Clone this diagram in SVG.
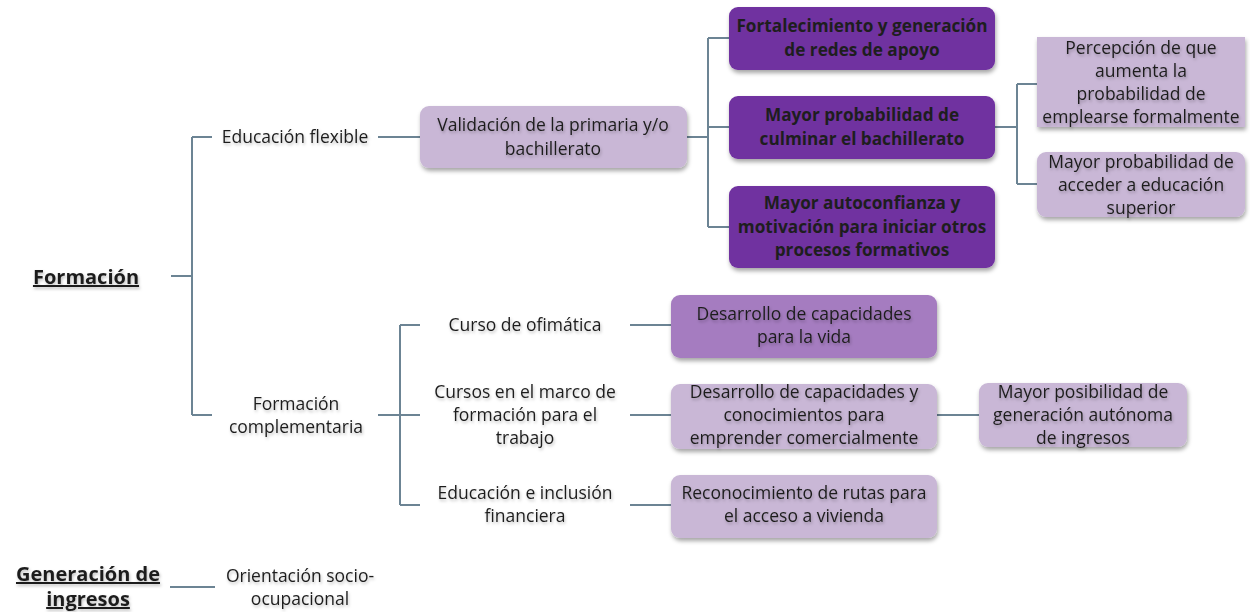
<svg xmlns="http://www.w3.org/2000/svg" width="1250" height="612" viewBox="0 0 1250 612">
<defs>
<filter id="sh" x="-10%" y="-10%" width="120%" height="130%">
<feDropShadow dx="1" dy="3" stdDeviation="2" flood-color="#000" flood-opacity="0.35"/>
</filter>
<filter id="ts" x="-5%" y="-20%" width="110%" height="150%">
<feDropShadow dx="1" dy="2" stdDeviation="1.5" flood-color="#000" flood-opacity="0.25"/>
</filter>
</defs>
<style>
text{font-family:"Open Sans","Noto Sans","Liberation Sans",sans-serif;font-size:17.5px;fill:#1e1e1e;text-anchor:middle;}
.t{filter:url(#ts);}
.b{font-weight:bold;font-size:17.2px;}
.h{font-weight:bold;font-size:20px;text-decoration:underline;}
.lt{fill:#c9b7d6;filter:url(#sh);}
.md{fill:#a57cc0;filter:url(#sh);}
.dk{fill:#7030a0;filter:url(#sh);}
.c{stroke:#6c8494;stroke-width:2;fill:none;}
</style>
<g id="connectors">
<path class="c" d="M171 276H192M192 137V415M192 137H212M192 415H212"/>
<path class="c" d="M378 137H420"/>
<path class="c" d="M687 137H708M708 38V227M708 38H729M708 127H729M708 227H729"/>
<path class="c" d="M995 127H1017M1017 84V184M1017 84H1037M1017 184H1037"/>
<path class="c" d="M378 415H400M400 325V505M400 325H420M400 415H420M400 505H420"/>
<path class="c" d="M630 325H671M630 415H671M630 505H671"/>
<path class="c" d="M937 415H979"/>
<path class="c" d="M170 587H215"/>
</g>
<g id="formacion" class="t"><text class="h" x="86" y="284">Formación</text></g>
<g id="educacion-flexible" class="t"><text x="295" y="143">Educación flexible</text></g>
<g id="validacion"><rect class="lt" x="420" y="106" width="267" height="62" rx="9"/>
<text class="t" x="553" y="131">Validación de la primaria y/o</text><text class="t" x="553" y="155">bachillerato</text></g>
<g id="fortalecimiento"><rect class="dk" x="729" y="7" width="266" height="63" rx="9"/>
<text class="b" x="862" y="32">Fortalecimiento y generación</text><text class="b" x="862" y="56">de redes de apoyo</text></g>
<g id="mayor-prob-culminar"><rect class="dk" x="729" y="96" width="266" height="63" rx="9"/>
<text class="b" x="862" y="121">Mayor probabilidad de</text><text class="b" x="862" y="145">culminar el bachillerato</text></g>
<g id="mayor-autoconfianza"><rect class="dk" x="729" y="186" width="266" height="82" rx="9"/>
<text class="b" x="862" y="209">Mayor autoconfianza y</text><text class="b" x="862" y="233">motivación para iniciar otros</text><text class="b" x="862" y="256">procesos formativos</text></g>
<g id="percepcion"><rect class="lt" x="1037" y="37" width="208" height="90" rx="0"/>
<text class="t" x="1141" y="54">Percepción de que</text><text class="t" x="1141" y="77">aumenta la</text><text class="t" x="1141" y="100">probabilidad de</text><text class="t" x="1141" y="123">emplearse formalmente</text></g>
<g id="acceder-superior"><rect class="lt" x="1037" y="152" width="208" height="65" rx="9"/>
<text class="t" x="1141" y="168">Mayor probabilidad de</text><text class="t" x="1141" y="191">acceder a educación</text><text class="t" x="1141" y="214">superior</text></g>
<g id="formacion-complementaria" class="t"><text x="296" y="410">Formación</text><text x="296" y="433">complementaria</text></g>
<g id="ofimatica" class="t"><text x="525" y="331">Curso de ofimática</text></g>
<g id="cursos-marco" class="t"><text x="525" y="398">Cursos en el marco de</text><text x="525" y="421">formación para el</text><text x="525" y="444">trabajo</text></g>
<g id="educacion-inclusion" class="t"><text x="525" y="499">Educación e inclusión</text><text x="525" y="522">financiera</text></g>
<g id="capacidades-vida"><rect class="md" x="671" y="295" width="266" height="63" rx="9"/>
<text class="t" x="804" y="320">Desarrollo de capacidades</text><text class="t" x="804" y="343">para la vida</text></g>
<g id="capacidades-emprender"><rect class="lt" x="671" y="384" width="266" height="65" rx="9"/>
<text class="t" x="804" y="398">Desarrollo de capacidades y</text><text class="t" x="804" y="421">conocimientos para</text><text class="t" x="804" y="444">emprender comercialmente</text></g>
<g id="generacion-autonoma"><rect class="lt" x="979" y="383" width="208" height="64" rx="9"/>
<text class="t" x="1083" y="398">Mayor posibilidad de</text><text class="t" x="1083" y="421">generación autónoma</text><text class="t" x="1083" y="444">de ingresos</text></g>
<g id="rutas-vivienda"><rect class="lt" x="671" y="475" width="266" height="63" rx="9"/>
<text class="t" x="804" y="499">Reconocimiento de rutas para</text><text class="t" x="804" y="522">el acceso a vivienda</text></g>
<g id="generacion-ingresos" class="t"><text class="h" x="88" y="581">Generación de</text><text class="h" x="88" y="606">ingresos</text></g>
<g id="orientacion" class="t"><text x="300" y="582">Orientación socio-</text><text x="300" y="605">ocupacional</text></g>
</svg>
